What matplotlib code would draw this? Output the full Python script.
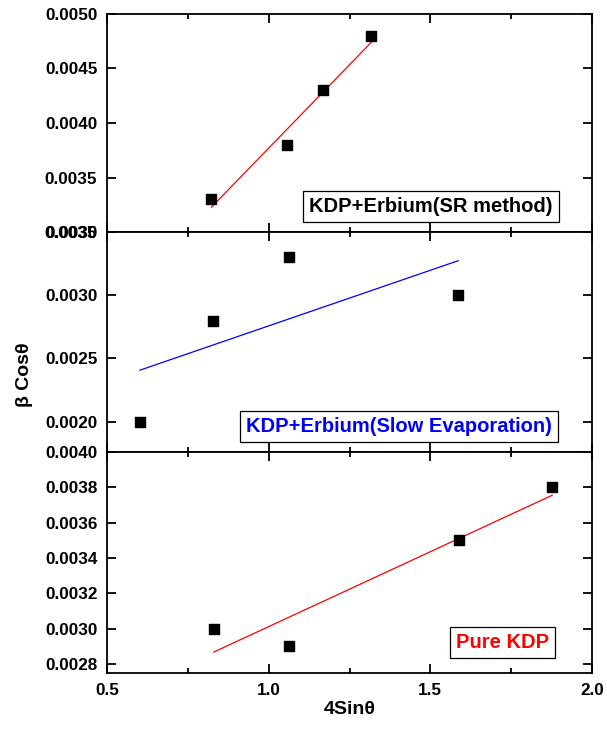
import numpy as np
import matplotlib
matplotlib.use("Agg")
import matplotlib.pyplot as plt
from matplotlib.ticker import MultipleLocator

plt.rcParams["font.family"] = ["Liberation Sans", "DejaVu Sans"]
plt.rcParams["font.weight"] = "bold"

# KDP + Erbium (SR method)
x_sr = [0.823, 1.058, 1.168, 1.318]
y_sr = [0.0033, 0.0038, 0.0043, 0.0048]

# KDP + Erbium (slow evaporation)
x_se = [0.602, 0.828, 1.064, 1.586]
y_se = [0.0020, 0.0028, 0.0033, 0.0030]

# Pure KDP
x_pure = [0.830, 1.063, 1.588, 1.877]
y_pure = [0.0030, 0.0029, 0.0035, 0.0038]

panels = [
    (x_sr, y_sr, "red", "KDP+Erbium(SR method)", "black", (0.0030, 0.0050), 0.0005, (0.668, 0.119)),
    (x_se, y_se, "blue", "KDP+Erbium(Slow Evaporation)", "blue", (0.00176, 0.0035), 0.0005, (0.602, 0.114)),
    (x_pure, y_pure, "red", "Pure KDP", "red", (0.00275, 0.0040), 0.0002, (0.816, 0.14)),
]

fig = plt.figure(figsize=(6.07, 7.34), dpi=100)
left, width = 107 / 607, 485 / 607
edges = [14, 232, 452, 673]

axes = []
for i, (xs, ys, lc, label, tc, ylim, ystep, tpos) in enumerate(panels):
    top, bot = edges[i], edges[i + 1]
    ax = fig.add_axes([left, 1 - bot / 734, width, (bot - top) / 734])
    ax.scatter(xs, ys, marker="s", s=60, color="black", zorder=3)
    k, b = np.polyfit(xs, ys, 1)
    fx = np.array([min(xs), max(xs)])
    ax.plot(fx, k * fx + b, color=lc, lw=0.9)
    ax.set_xlim(0.5, 2.0)
    ax.set_ylim(*ylim)
    ax.xaxis.set_major_locator(MultipleLocator(0.5))
    ax.xaxis.set_minor_locator(MultipleLocator(0.25))
    ax.yaxis.set_major_locator(MultipleLocator(ystep))
    ax.yaxis.set_major_formatter(plt.FormatStrFormatter("%.4f"))
    ax.tick_params(which="both", direction="in", top=True, right=True, width=1.3)
    ax.tick_params(which="major", length=6.5, labelsize=12.3, pad=7)
    ax.tick_params(which="minor", length=3.5)
    for sp in ax.spines.values():
        sp.set_linewidth(1.3)
    for t in ax.get_yticklabels():
        t.set_fontweight("bold")
    if i < 2:
        ax.tick_params(axis="x", labelbottom=False)
    else:
        for t in ax.get_xticklabels():
            t.set_fontweight("bold")
    ax.text(tpos[0], tpos[1], label, transform=ax.transAxes, ha="center", va="center",
            color=tc, fontsize=14.5, fontweight="bold",
            bbox=dict(boxstyle="square,pad=0.3", fc="white", ec="black", lw=0.9))
    axes.append(ax)

axes[2].set_xlabel("4Sinθ", fontsize=14, fontweight="bold", labelpad=2)
fig.text(0.04, 0.49, "β Cosθ", rotation=90, ha="center", va="center",
         fontsize=14, fontweight="bold")

fig.savefig("out.png", dpi=100)
